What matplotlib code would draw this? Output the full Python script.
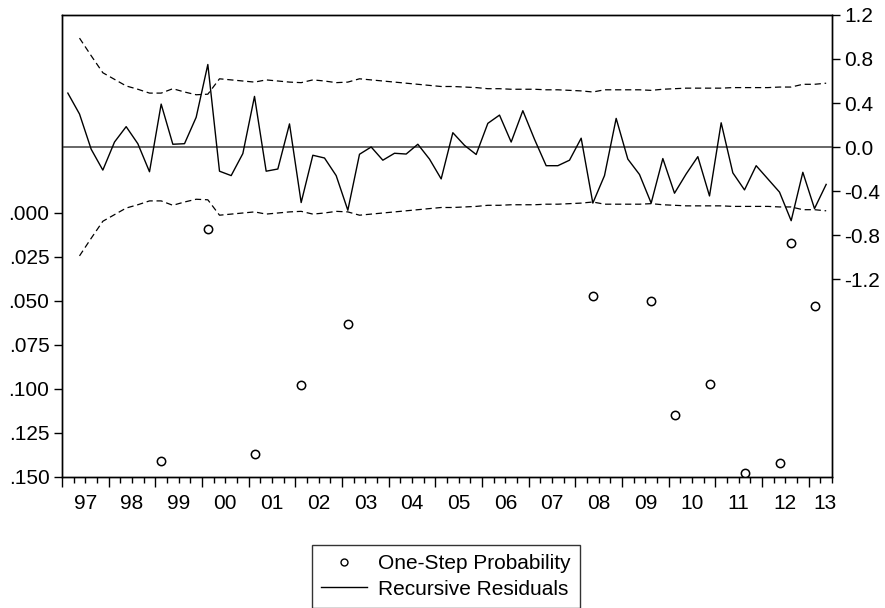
import numpy as np
import matplotlib
matplotlib.use('Agg')
from matplotlib import pyplot as plt
from matplotlib.lines import Line2D

# Quarterly sample 1997Q1 - 2013Q2, index 0 = 1997Q1.
resid = [0.49, 0.30, -0.02, -0.21, 0.045, 0.185, 0.03, -0.225, 0.39, 0.025,
         0.03, 0.27, 0.75, -0.22, -0.26, -0.06, 0.46, -0.22, -0.20, 0.21,
         -0.505, -0.075, -0.10, -0.26, -0.575, -0.066, 0.0, -0.12, -0.057, -0.064,
         0.025, -0.11, -0.29, 0.13, 0.015, -0.068, 0.215, 0.29, 0.045, 0.33,
         0.07, -0.17, -0.17, -0.12, 0.08, -0.51, -0.26, 0.26, -0.11, -0.25,
         -0.51, -0.105, -0.42, -0.245, -0.088, -0.445, 0.22, -0.235, -0.39, -0.17,
         -0.29, -0.41, -0.67, -0.23, -0.56, -0.34]

# two standard error band, starts at 1997Q2
band = [0.99, 0.83, 0.675, 0.615, 0.555, 0.525, 0.49, 0.49, 0.53, 0.50,
        0.475, 0.48, 0.62, 0.61, 0.60, 0.59, 0.61, 0.60, 0.59, 0.585,
        0.61, 0.60, 0.585, 0.59, 0.62, 0.61, 0.60, 0.59, 0.58, 0.57,
        0.56, 0.55, 0.55, 0.545, 0.54, 0.53, 0.53, 0.525, 0.525, 0.525,
        0.52, 0.52, 0.515, 0.51, 0.50, 0.52, 0.52, 0.52, 0.52, 0.515,
        0.525, 0.53, 0.535, 0.535, 0.535, 0.535, 0.54, 0.54, 0.54, 0.54,
        0.545, 0.545, 0.57, 0.57, 0.58]

prob_idx = [8, 12, 16, 20, 24, 45, 50, 52, 55, 58, 61, 62, 64]
prob = [0.141, 0.009, 0.137, 0.098, 0.063, 0.047, 0.050, 0.115, 0.097,
        0.148, 0.142, 0.017, 0.053]

year_labels = ['97', '98', '99', '00', '01', '02', '03', '04', '05', '06',
               '07', '08', '09', '10', '11', '12', '13']

plt.rcParams['font.family'] = ['Liberation Sans', 'DejaVu Sans']
plt.rcParams['font.size'] = 15

fig = plt.figure(figsize=(8.85, 6.08), dpi=100)
ax = fig.add_axes([62 / 885, 1 - 477 / 608, 770 / 885, 462 / 608])
ax2 = ax.twinx()

x = np.arange(len(resid)) + 0.5
xb = np.arange(1, len(resid)) + 0.5
upper = np.array(band)
lower = -upper

# Residuals and bands on the right axis
ax2.axhline(0, color='#666666', lw=1.4, zorder=1)
ax2.plot(x, resid, color='black', lw=1.0, zorder=3)
ax2.plot(xb, upper, color='black', lw=0.9, dashes=(5, 3), zorder=2)
ax2.plot(xb, lower, color='black', lw=0.9, dashes=(5, 3), zorder=2)
ax2.set_ylim(-3.0, 1.2)
ax2.set_yticks([-1.2, -0.8, -0.4, 0.0, 0.4, 0.8, 1.2])
ax2.set_yticklabels(['-1.2', '-0.8', '-0.4', '0.0', '0.4', '0.8', '1.2'])

# One-step probabilities on the left axis (inverted)
px = np.array(prob_idx) + 0.5
ax.plot(px, prob, 'o', ms=6, mfc='white', mec='black', mew=1.1, ls='none', zorder=4)
ax.set_ylim(0.15, -0.1125)
ax.set_yticks([0.0, 0.025, 0.05, 0.075, 0.1, 0.125, 0.15])
ax.set_yticklabels(['.000', '.025', '.050', '.075', '.100', '.125', '.150'])

ax.set_xlim(0, 66)
ax.set_xticks(np.arange(0, 67, 4))
ax.set_xticks(np.arange(0, 67, 1), minor=True)
ax.set_xticklabels([])
ax.tick_params(axis='x', which='major', length=7, width=1, direction='out')
ax.tick_params(axis='x', which='minor', length=4, width=1, direction='out')
ax.tick_params(axis='y', length=6, width=1, pad=3)
ax2.tick_params(axis='y', length=6, width=1, pad=3)

# Year labels in the middle of each year
for i, lab in enumerate(year_labels):
    pos = 4 * i + 2
    if pos > 65.4:
        pos = 65.4
    ax.annotate(lab, xy=(pos, 0), xycoords=('data', 'axes fraction'),
                xytext=(0, -19), textcoords='offset points',
                ha='center', va='center')

for a in (ax, ax2):
    for s in a.spines.values():
        s.set_linewidth(1.0)
        s.set_color('black')

handles = [Line2D([], [], marker='o', ms=5, mfc='white', mec='black', mew=1.0, ls='none'),
           Line2D([], [], color='black', lw=1.0)]
leg = fig.legend(handles, ['One-Step Probability', 'Recursive Residuals'],
                 loc='lower center', bbox_to_anchor=(0.504, 0.0), frameon=True,
                 fancybox=False, edgecolor='black', handlelength=2.2,
                 handletextpad=0.55, labelspacing=0.3, borderpad=0.45,
                 borderaxespad=0.0)
leg.get_frame().set_linewidth(1.0)

plt.savefig('out.png', dpi=100)
